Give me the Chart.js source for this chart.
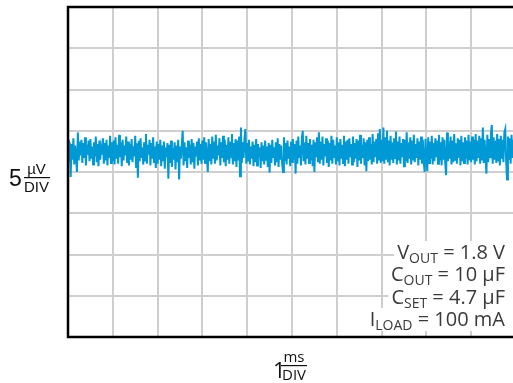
<!DOCTYPE html>
<html><head><meta charset="utf-8">
<script src="https://cdn.jsdelivr.net/npm/chart.js@4"></script>
<style>
html,body{margin:0;padding:0;overflow:hidden;background:#fff;width:513px;height:383px}
#wrap{width:520px;height:383px}
</style></head>
<body><div id="wrap"><canvas id="c" width="520" height="383"></canvas></div>
<script>
// Output noise trace, µV, one sample per 0.02 ms
const noiseUV = [
3.9,1.2,3.6,-0.6,3.4,1.5,4.1,0.9,3.2,1.8,0.0,4.8,1.4,3.7,2.0,3.9,1.1,3.5,1.7,4.2,0.8,3.3,2.1,3.8,1.3,4.0,1.6,3.1,0.9,3.6,1.9,4.3,1.2,3.4,0.7,3.8,1.5,3.0,2.2,4.1,1.0,3.5,1.4,3.9,0.8,3.2,1.7,4.4,1.1,3.6,
1.3,3.8,0.9,4.2,1.6,3.3,1.0,4.5,1.8,3.6,0.7,3.9,1.4,3.2,2.0,4.3,1.1,3.7,0.8,3.4,1.5,4.0,1.2,3.1,1.9,4.4,0.6,3.5,-0.7,3.8,1.3,4.1,1.7,3.0,0.9,3.6,1.4,4.6,1.0,3.3,2.1,3.9,0.8,3.5,1.6,4.2,1.2,3.1,0.5,3.7,
1.0,3.4,1.5,3.9,0.7,3.2,1.3,3.7,0.4,3.0,1.8,3.5,-0.8,3.3,1.1,3.8,0.6,2.9,1.5,3.6,0.3,3.2,1.2,3.9,-0.9,3.1,1.6,3.4,5.0,0.8,3.6,1.3,3.0,0.5,3.8,1.7,3.3,0.9,4.0,1.2,3.5,0.4,3.1,1.9,3.7,0.8,4.1,1.4,3.4,1.0,
3.8,1.5,4.2,1.1,3.6,1.9,0.0,4.0,1.3,3.4,0.9,4.3,1.6,3.7,1.0,4.5,1.4,3.2,2.0,4.1,0.8,3.6,1.7,4.4,1.2,3.9,0.7,3.3,1.5,4.2,1.0,3.7,1.8,4.6,0.9,3.5,1.3,4.0,0.6,3.8,1.4,4.3,-0.5,5.4,1.1,3.6,1.7,4.1,5.2,1.0,
3.5,1.4,3.9,0.9,3.1,1.6,3.7,0.7,3.3,1.2,4.0,0.8,3.4,1.8,3.0,0.5,3.6,1.3,3.2,0.9,3.8,1.5,3.1,0.6,3.5,-0.1,3.3,1.1,3.9,1.7,3.0,0.8,3.6,1.2,4.1,0.6,3.4,1.5,3.2,1.0,0.0,4.2,1.3,3.5,0.9,3.8,1.6,3.1,0.7,3.7,
1.2,4.0,1.5,3.4,-0.2,3.8,1.0,4.3,1.7,3.2,0.8,4.1,5.0,1.3,3.6,0.9,4.4,1.6,3.5,1.1,4.0,1.4,3.3,0.7,3.9,0.0,3.6,1.8,4.2,1.2,4.8,1.0,3.7,1.5,4.3,0.8,3.4,1.9,4.1,1.1,3.8,0.6,3.5,1.4,4.4,1.0,3.9,1.7,3.2,0.9,
4.2,1.3,3.6,0.8,4.0,1.6,3.3,1.1,4.4,0.7,3.7,1.5,3.9,1.0,4.1,1.8,3.4,0.9,4.3,1.2,3.5,1.6,4.0,0.6,3.8,1.4,4.5,1.0,3.3,1.7,4.1,0.8,3.6,0.1,3.9,1.3,4.2,1.5,3.4,0.9,4.6,1.2,3.7,1.8,4.0,1.0,4.7,1.4,5.2,1.1,
3.9,1.3,5.4,1.0,4.2,1.6,5.0,1.2,3.8,0.8,4.4,1.5,3.6,1.1,4.1,1.7,4.9,0.9,3.7,1.4,4.3,1.0,3.5,1.8,4.0,0.7,3.9,1.3,4.8,1.1,3.6,1.6,4.2,0.9,3.8,1.4,4.5,1.2,3.4,1.7,4.1,0.8,3.7,1.5,4.3,1.0,3.9,1.3,0.0,4.0,
1.4,0.1,4.2,1.1,3.7,1.6,4.4,0.9,3.5,1.3,4.1,1.8,3.8,1.0,4.5,1.4,3.6,0.8,4.2,1.5,3.9,1.1,-0.4,4.8,1.3,3.7,1.6,4.3,0.9,3.8,1.2,4.6,1.5,3.5,1.0,4.1,1.7,3.9,0.8,4.4,1.3,3.6,1.1,4.2,1.6,3.8,0.9,4.5,1.4,3.7,
1.2,4.3,1.5,3.9,0.9,4.6,1.3,3.8,1.7,4.4,1.0,4.1,1.4,5.4,1.1,3.9,1.6,-0.2,4.5,1.2,4.0,1.8,4.7,5.7,1.0,4.2,1.5,3.8,1.1,4.6,1.4,4.0,0.8,4.4,1.6,3.9,1.2,4.8,5.2,1.3,-0.9,4.3,1.5,4.1,1.0,4.5,1.7,3.9,1.3,4.4
];
const sampleStepMs = 0.02;
const xRangeMs = [0, 10];      // 1 ms / div, 10 divisions
const yRangeUV = [-20, 20];    // 5 µV / div, 8 divisions
const xDivMs = 1;
const yDivUV = 5;

const noteNames = ['V', 'C', 'C', 'I'];
const noteSubs = ['OUT', 'OUT', 'SET', 'LOAD'];
const noteValues = [' = 1.8 V', ' = 10 µF', ' = 4.7 µF', ' = 100 mA'];

const yScaleText = ['5', 'µV', 'DIV'];
const xScaleText = ['1', 'ms', 'DIV'];

const points = noiseUV.map((v, i) => ({ x: i * sampleStepMs, y: v }));

const decorPlugin = {
  id: 'decor',
  afterDatasetsDraw(chart) {
    const ctx = chart.ctx;
    const a = chart.chartArea;
    ctx.save();
    // annotation block
    const mainFont = '20px "Open Sans"';
    const subFont = '14px "Open Sans"';
    const rightX = 505;
    const baselines = [259, 281, 304, 326];
    for (let i = 0; i < noteNames.length; i++) {
      ctx.font = mainFont;
      const w1 = ctx.measureText(noteNames[i]).width;
      const w3 = ctx.measureText(noteValues[i]).width;
      ctx.font = subFont;
      const w2 = ctx.measureText(noteSubs[i]).width;
      const total = w1 + w2 + w3;
      const x0 = rightX - total;
      const b = baselines[i];
      ctx.fillStyle = '#fff';
      ctx.fillRect(x0 - 3, b - 18, 520 - x0, 23);
    }
    for (let i = 0; i < noteNames.length; i++) {
      ctx.font = mainFont;
      const w1 = ctx.measureText(noteNames[i]).width;
      const w3 = ctx.measureText(noteValues[i]).width;
      ctx.font = subFont;
      const w2 = ctx.measureText(noteSubs[i]).width;
      const x0 = rightX - (w1 + w2 + w3);
      const b = baselines[i];
      ctx.fillStyle = '#3a3a3a';
      ctx.textBaseline = 'alphabetic';
      ctx.textAlign = 'left';
      ctx.font = mainFont;
      ctx.fillText(noteNames[i], x0, b);
      ctx.font = subFont;
      ctx.fillText(noteSubs[i], x0 + w1, b + 4);
      ctx.font = mainFont;
      ctx.fillText(noteValues[i], x0 + w1 + w2, b);
    }
    // frame
    ctx.strokeStyle = '#000';
    ctx.lineWidth = 2.5;
    ctx.beginPath();
    ctx.moveTo(a.right + 2, a.top);
    ctx.lineTo(a.left, a.top);
    ctx.lineTo(a.left, a.bottom);
    ctx.lineTo(a.right + 2, a.bottom);
    ctx.stroke();

    // y scale label
    ctx.fillStyle = '#111';
    ctx.textAlign = 'left';
    ctx.font = '23px "Liberation Sans"';
    ctx.fillText(yScaleText[0], 9, 186);
    ctx.font = '15px "Liberation Sans"';
    ctx.textAlign = 'center';
    ctx.fillText(yScaleText[1], 36.5, 174);
    ctx.fillText(yScaleText[2], 36.5, 192);
    ctx.fillRect(24, 177, 26, 1.2);

    // x scale label
    ctx.textAlign = 'left';
    ctx.font = '22px "Open Sans"';
    ctx.fillText(xScaleText[0], 273, 378);
    ctx.font = '15px "Open Sans"';
    ctx.textAlign = 'center';
    ctx.fillText(xScaleText[1], 294, 362);
    ctx.fillText(xScaleText[2], 294, 380);
    ctx.fillRect(281, 365, 26, 1.2);
    ctx.restore();
  }
};

new Chart(document.getElementById('c'), {
  type: 'line',
  data: {
    datasets: [{
      data: points,
      borderColor: '#0099d6',
      borderWidth: 2,
      pointRadius: 0,
      tension: 0,
      fill: false
    }]
  },
  options: {
    responsive: false,
    animation: false,
    events: [],
    layout: { padding: { left: 68, top: 7, right: 4, bottom: 46 } },
    plugins: { legend: { display: false }, tooltip: { enabled: false } },
    scales: {
      x: {
        type: 'linear', min: xRangeMs[0], max: xRangeMs[1],
        ticks: { display: false, stepSize: xDivMs },
        grid: { color: '#cfcfcf', lineWidth: 2, drawTicks: false },
        border: { display: false }
      },
      y: {
        type: 'linear', min: yRangeUV[0], max: yRangeUV[1],
        ticks: { display: false, stepSize: yDivUV },
        grid: { color: '#cfcfcf', lineWidth: 2, drawTicks: false },
        border: { display: false }
      }
    }
  },
  plugins: [decorPlugin]
});
</script>
</body></html>
